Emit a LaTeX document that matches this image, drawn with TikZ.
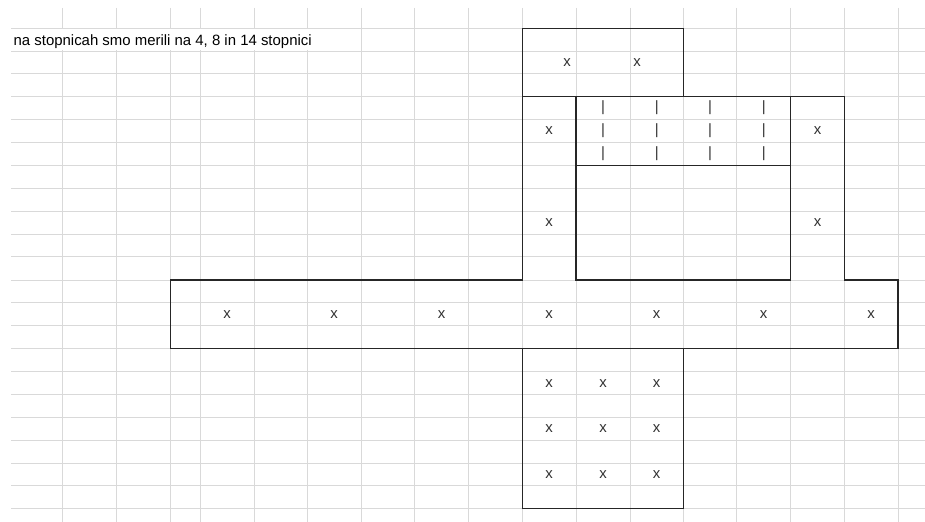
\documentclass[tikz,border=0pt]{standalone}
\usepackage{fontspec}
\setmainfont{Liberation Sans}

\begin{document}
\begin{tikzpicture}[x=0.2mm, y=-0.2mm,
  gridline/.style={draw=gray!30, line width=0.5pt},
  outline/.style={draw=black!85, line width=0.7pt},
  xsign/.style={inner sep=0pt, text=black!80, font=\fontsize{8.5}{10}\selectfont},
  barsign/.style={inner sep=0pt, text=black!80, font=\fontsize{8.5}{10}\selectfont},
  note/.style={inner sep=0pt, anchor=base west, text=black, font=\fontsize{8.5}{10}\selectfont}
]

% ozadje
\useasboundingbox[fill=white] (0,0) rectangle (925,522);

% mreža
\foreach \gx in {62.7,116.7,170.7,200,254,307.3,361,414.7,468.3,522.3,576,630,683.3,736.7,790.7,844.3,898}
  \draw[gridline] (\gx,8) -- (\gx,522);
\foreach \gy in {28.3,51,73.7,96.7,119.3,142.7,165.7,188.3,211.3,234.3,256.7,280,302.7,325.7,348.7,371.7,394.7,417.3,440.3,463,485.7,508.7}
  \draw[gridline] (11,\gy) -- (925,\gy);

% besedilo (prekrije mrežo)
\fill[white] (11.5,28.9) rectangle (360.5,50.4);
\node (naslov) [note] at (13.3,45.7) {na stopnicah smo merili na 4, 8 in 14 stopnici};

% obrobe
\draw[outline] (522.3,28.3) rectangle (683.3,96.7);
\draw[outline] (170.7,280) -- (522.3,280) -- (522.3,96.7) -- (844.3,96.7) -- (844.3,280)
  -- (898,280) -- (898,348.7) -- (170.7,348.7) -- cycle;
\draw[outline] (576,96.7) -- (576,280) -- (790.7,280) -- (790.7,96.7);
\draw[outline] (576,165.7) -- (790.7,165.7);
\draw[outline] (522.3,348.7) rectangle (683.3,508.7);

% zgoraj
\node (zg1) [xsign] at (567,62.5) {x};
\node (zg2) [xsign] at (637,62.5) {x};

% stebra
\node (lv1) [xsign] at (549.2,131) {x};
\node (lv2) [xsign] at (549.2,222.8) {x};
\node (dv1) [xsign] at (817.5,131) {x};
\node (dv2) [xsign] at (817.5,222.8) {x};

% stopnice
\node (c11) [barsign] at (603,108) {|};   \node (c21) [barsign] at (656.7,108) {|};
\node (c31) [barsign] at (710,108) {|};   \node (c41) [barsign] at (763.7,108) {|};
\node (c12) [barsign] at (603,131) {|};   \node (c22) [barsign] at (656.7,131) {|};
\node (c32) [barsign] at (710,131) {|};   \node (c42) [barsign] at (763.7,131) {|};
\node (c13) [barsign] at (603,154) {|};   \node (c23) [barsign] at (656.7,154) {|};
\node (c33) [barsign] at (710,154) {|};   \node (c43) [barsign] at (763.7,154) {|};

% vodoravni pas
\node (p1) [xsign] at (227,314.2) {x};
\node (p2) [xsign] at (334.2,314.2) {x};
\node (p3) [xsign] at (441.5,314.2) {x};
\node (p4) [xsign] at (549.2,314.2) {x};
\node (p5) [xsign] at (656.7,314.2) {x};
\node (p6) [xsign] at (763.7,314.2) {x};
\node (p7) [xsign] at (871.2,314.2) {x};

% spodaj
\node (s11) [xsign] at (549.2,383.2) {x};   \node (s21) [xsign] at (603,383.2) {x};
\node (s31) [xsign] at (656.7,383.2) {x};
\node (s12) [xsign] at (549.2,428.8) {x};   \node (s22) [xsign] at (603,428.8) {x};
\node (s32) [xsign] at (656.7,428.8) {x};
\node (s13) [xsign] at (549.2,474.3) {x};   \node (s23) [xsign] at (603,474.3) {x};
\node (s33) [xsign] at (656.7,474.3) {x};

\end{tikzpicture}
\end{document}
